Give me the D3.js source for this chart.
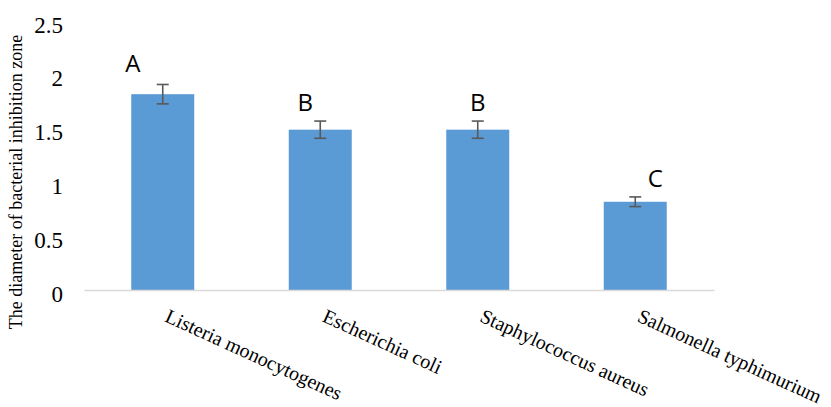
<!DOCTYPE html>
<html><head><meta charset="utf-8">
<script src="https://cdn.jsdelivr.net/npm/d3@7"></script>
<style>body{margin:0;background:#fff}svg{display:block}</style>
</head><body>
<script>
const categories = ["Listeria monocytogenes","Escherichia coli","Staphylococcus aureus","Salmonella typhimurium"];
const values = [1.82, 1.49, 1.49, 0.82];
const errors = [0.09, 0.08, 0.08, 0.045];
const letters = ["A","B","B","C"];
const yTicks = [0, 0.5, 1, 1.5, 2, 2.5];
const yTickLabels = ["0","0.5","1","1.5","2","2.5"];
const yTitle = "The diameter of bacterial inhibition zone";

const W = 831, H = 407;
const letterDx = [-30, -15, 0, 20];
const letterGap = [12, 10, 10, 10];
const SERIF = "'Liberation Serif','Times New Roman',serif";

const svg = d3.select("body").append("svg").attr("width", W).attr("height", H);
const x = d3.scaleBand().domain(categories).range([84, 714]).paddingInner(0.6).paddingOuter(0.3);
const y = d3.scaleLinear().domain([0, 2.5]).range([290, 21]);

// bars
svg.selectAll("rect.bar").data(categories).join("rect")
  .attr("x", d => x(d)).attr("width", x.bandwidth())
  .attr("y", (d,i) => y(values[i])).attr("height", (d,i) => y(0) - y(values[i]))
  .attr("fill", "#5b9bd5");

// x axis line
const xAxis = d3.axisBottom(x).tickSize(0).tickFormat("");
const gx = svg.append("g").attr("transform", `translate(0,${y(0)})`).call(xAxis);
gx.select(".domain").attr("stroke", "#d9d9d9").attr("stroke-width", 1.5);

// x labels
svg.selectAll("text.xl").data(categories).join("text")
  .attr("transform", d => `translate(${x(d) + x.bandwidth()/2 + 1},321) rotate(24.5)`)
  .style("font-family", SERIF)
  .style("font-size", "20px").attr("fill", "#000")
  .text(d => d);

// y axis
const yAxis = d3.axisLeft(y).tickValues(yTicks).tickSize(0).tickPadding(0)
  .tickFormat((d,i) => yTickLabels[i]);
const gy = svg.append("g").attr("transform", "translate(63,0)").call(yAxis);
gy.attr("font-family", null).attr("font-size", null);
gy.select(".domain").remove();
gy.selectAll("text").style("font-family", SERIF)
  .style("font-size", "23px").attr("fill", "#000").attr("dy", "0.48em");

// y title
svg.append("text")
  .attr("transform", "translate(22,182) rotate(-90)")
  .attr("text-anchor", "middle")
  .style("font-family", SERIF)
  .style("font-size", "18px").attr("fill", "#000")
  .text(yTitle);

// error bars
const eg = svg.append("g").attr("stroke", "#595959").attr("stroke-width", 1.6);
categories.forEach((c,i) => {
  const cx = x(c) + x.bandwidth()/2;
  const top = y(values[i] + errors[i]), bot = y(values[i] - errors[i]);
  eg.append("line").attr("x1", cx).attr("x2", cx).attr("y1", top).attr("y2", bot);
  eg.append("line").attr("x1", cx-6).attr("x2", cx+6).attr("y1", top).attr("y2", top);
  eg.append("line").attr("x1", cx-6).attr("x2", cx+6).attr("y1", bot).attr("y2", bot);
});

// letters
svg.selectAll("text.lt").data(categories).join("text")
  .attr("x", (d,i) => x(d) + x.bandwidth()/2 + letterDx[i])
  .attr("y", (d,i) => y(values[i] + errors[i]) - letterGap[i])
  .attr("text-anchor", "middle")
  .style("font-family", "'Open Sans','Liberation Sans',sans-serif")
  .style("font-size", "24px").attr("fill", "#000")
  .text((d,i) => letters[i]);
</script>
</body></html>
